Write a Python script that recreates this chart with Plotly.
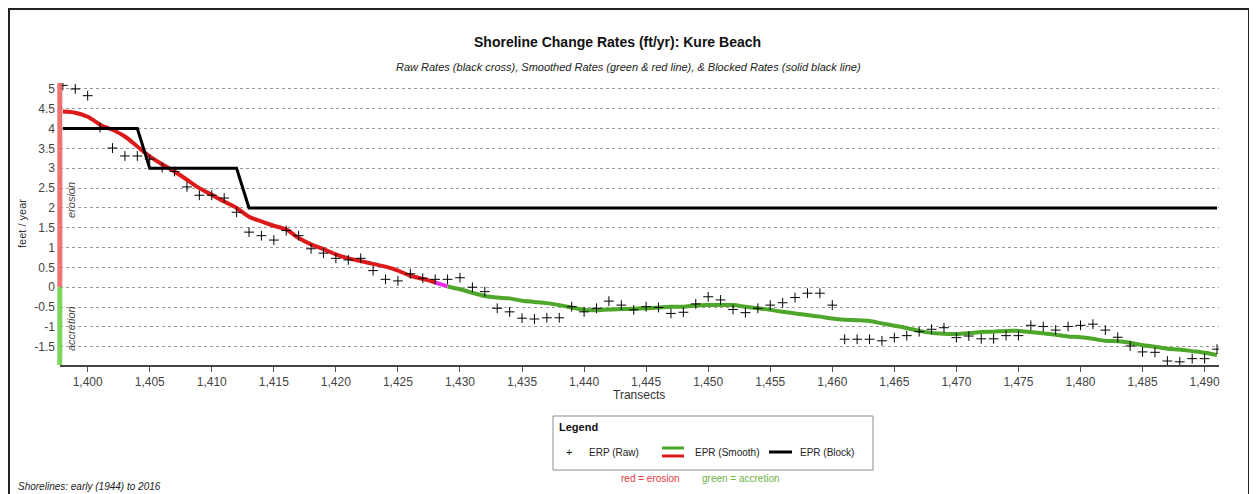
import plotly.graph_objects as go

# ---------------- data ----------------
transects = list(range(1398, 1492))

raw_rates = [
    5.09, 5.00, 4.83, 4.03, 3.51, 3.31, 3.31, 3.23, 3.02, 2.92,   # 1398-1407
    2.53, 2.32, 2.32, 2.25, 1.89, 1.39, 1.30, 1.19, 1.43, 1.30,   # 1408-1417
    0.97, 0.86, 0.73, 0.69, 0.73, 0.42, 0.20, 0.16, 0.34, 0.23,   # 1418-1427
    0.20, 0.20, 0.24, 0.00, -0.11, -0.53, -0.62, -0.78, -0.80, -0.77,  # 1428-1437
    -0.77, -0.49, -0.62, -0.53, -0.35, -0.45, -0.57, -0.49, -0.51, -0.66,  # 1438-1447
    -0.63, -0.42, -0.24, -0.32, -0.56, -0.64, -0.53, -0.45, -0.39, -0.26,  # 1448-1457
    -0.15, -0.15, -0.45, -1.31, -1.31, -1.31, -1.35, -1.27, -1.22, -1.12,  # 1458-1467
    -1.06, -1.02, -1.27, -1.23, -1.30, -1.30, -1.22, -1.22, -0.96, -0.99,  # 1468-1477
    -1.08, -0.99, -0.96, -0.93, -1.08, -1.26, -1.48, -1.63, -1.64, -1.86,  # 1478-1487
    -1.88, -1.80, -1.80, -1.56,                                          # 1488-1491
]

smooth_rates = [
    4.43, 4.40, 4.30, 4.10, 3.97, 3.80, 3.55, 3.30, 3.10, 2.92,   # 1398-1407
    2.71, 2.50, 2.33, 2.16, 2.00, 1.78, 1.66, 1.55, 1.46, 1.24,   # 1408-1417
    1.08, 0.96, 0.83, 0.73, 0.66, 0.59, 0.52, 0.42, 0.29, 0.21,   # 1418-1427
    0.12, 0.02, -0.05, -0.14, -0.22, -0.26, -0.28, -0.34, -0.37, -0.40,  # 1428-1437
    -0.45, -0.51, -0.57, -0.58, -0.56, -0.55, -0.54, -0.53, -0.51, -0.49,  # 1438-1447
    -0.49, -0.46, -0.45, -0.45, -0.45, -0.49, -0.53, -0.57, -0.62, -0.66,  # 1448-1457
    -0.70, -0.74, -0.79, -0.82, -0.83, -0.85, -0.91, -0.97, -1.03, -1.10,  # 1458-1467
    -1.15, -1.17, -1.18, -1.16, -1.13, -1.12, -1.10, -1.10, -1.13, -1.16,  # 1468-1477
    -1.20, -1.24, -1.26, -1.30, -1.35, -1.36, -1.40, -1.46, -1.50, -1.55,  # 1478-1487
    -1.57, -1.61, -1.65, -1.71,                                          # 1488-1491
]

block_x = [1398, 1404, 1405, 1412, 1413, 1491]
block_y = [4, 4, 3, 3, 2, 2]

y_ticks = [-1.5, -1, -0.5, 0, 0.5, 1, 1.5, 2, 2.5, 3, 3.5, 4, 4.5, 5]
y_tick_text = ["-1.5", "-1", "-0.5", "0", "0.5", "1", "1.5", "2", "2.5", "3", "3.5", "4", "4.5", "5"]
x_ticks = list(range(1400, 1491, 5))

# ---------------- layout geometry ----------------
# The page body has an 8px margin, so the figure is drawn 8px in from the window corner.
OFF = 8
W, H = 1257 - OFF, 494 - OFF
PLOT_L, PLOT_R, PLOT_T, PLOT_B = 60, 1219, 83, 365      # plot area in window pixels
L, T = PLOT_L - OFF, PLOT_T - OFF
R = W - (PLOT_R - OFF)
B = H - (PLOT_B - OFF)
PW, PH = PLOT_R - PLOT_L, PLOT_B - PLOT_T


def px(x):
    return (x - PLOT_L) / PW


def py(y):
    return (PLOT_B - y) / PH


FONT = "Liberation Sans, Arial, sans-serif"
RED = "#dd1a1a"
GREEN = "#4ea72a"
MAGENTA = "#e62ee6"

fig = go.Figure()

# smoothed line split into erosion / transition / accretion parts
i_red_end = transects.index(1428)
i_mag_end = transects.index(1429)
fig.add_trace(go.Scatter(x=transects[:i_red_end + 1], y=smooth_rates[:i_red_end + 1],
                         mode="lines", line=dict(color=RED, width=4, shape="spline", smoothing=0.8),
                         showlegend=False, hoverinfo="skip"))
fig.add_trace(go.Scatter(x=transects[i_red_end:i_mag_end + 1], y=smooth_rates[i_red_end:i_mag_end + 1],
                         mode="lines", line=dict(color=MAGENTA, width=4),
                         showlegend=False, hoverinfo="skip"))
fig.add_trace(go.Scatter(x=transects[i_mag_end:], y=smooth_rates[i_mag_end:],
                         mode="lines", line=dict(color=GREEN, width=4, shape="spline", smoothing=0.8),
                         showlegend=False, hoverinfo="skip"))

# blocked rates
fig.add_trace(go.Scatter(x=block_x, y=block_y, mode="lines",
                         line=dict(color="black", width=3), showlegend=False))

# raw rates
fig.add_trace(go.Scatter(x=transects, y=raw_rates, mode="markers",
                         marker=dict(symbol="cross-thin", size=7, color="black",
                                     line=dict(color="black", width=1)),
                         showlegend=False))

shapes = []
# erosion / accretion side bar
shapes.append(dict(type="line", xref="paper", yref="y", x0=px(59.8), x1=px(59.8), y0=0, y1=5.15,
                   line=dict(color="rgba(235,90,90,0.85)", width=5), layer="above"))
shapes.append(dict(type="line", xref="paper", yref="y", x0=px(59.8), x1=px(59.8), y0=-1.96, y1=0,
                   line=dict(color="rgba(110,210,70,0.9)", width=5), layer="above"))

# outer frame
shapes.append(dict(type="rect", xref="paper", yref="paper", x0=px(9), x1=px(1249), y0=py(9), y1=py(510),
                   line=dict(color="#222", width=2), fillcolor="rgba(0,0,0,0)"))

# legend box
shapes.append(dict(type="rect", xref="paper", yref="paper", x0=px(553), x1=px(873), y0=py(416), y1=py(470),
                   line=dict(color="#8a8a8a", width=1), fillcolor="white"))
shapes.append(dict(type="line", xref="paper", yref="paper", x0=px(662), x1=px(684), y0=py(448), y1=py(448),
                   line=dict(color=GREEN, width=3)))
shapes.append(dict(type="line", xref="paper", yref="paper", x0=px(662), x1=px(684), y0=py(456), y1=py(456),
                   line=dict(color=RED, width=3)))
shapes.append(dict(type="line", xref="paper", yref="paper", x0=px(769), x1=px(792), y0=py(452), y1=py(452),
                   line=dict(color="black", width=3)))

annotations = []


def text(x, y, s, size=11, color="#222", xanchor="left", bold=False, italic=False, angle=0):
    if bold:
        s = "<b>" + s + "</b>"
    if italic:
        s = "<i>" + s + "</i>"
    annotations.append(dict(x=px(x), y=py(y), xref="paper", yref="paper", text=s, showarrow=False,
                            xanchor=xanchor, yanchor="middle", textangle=angle,
                            font=dict(family=FONT, size=size, color=color)))


text(617, 42, "Shoreline Change Rates (ft/yr): Kure Beach", size=14, color="#111", xanchor="center", bold=True)
text(628, 67, "Raw Rates (black cross), Smoothed Rates (green &amp; red line), &amp; Blocked Rates (solid black line)",
     size=11, color="#222", xanchor="center", italic=True)
text(22, 224, "feet / year", size=11, color="#333", xanchor="center", angle=-90)
text(639, 395, "Transects", size=12, color="#333", xanchor="center")
text(71, 200, "erosion", size=11, color="#444", xanchor="center", italic=True, angle=-90)
text(71, 329, "accretion", size=11, color="#444", xanchor="center", italic=True, angle=-90)

text(557, 427, "Legend", size=11, color="#111", bold=True)
text(569, 452, "+", size=11, color="#111", xanchor="center")
text(587, 452, "ERP (Raw)", size=10, color="#222")
text(693, 452, "EPR (Smooth)", size=10, color="#222")
text(798, 452, "EPR (Block)", size=10, color="#222")
text(650, 478, "red = erosion", size=10, color="#e8393a", xanchor="center")
text(741, 478, "green = accretion", size=10, color="#6db33f", xanchor="center")
text(16, 486, "Shorelines: early (1944) to 2016", size=10, color="#222", italic=True)

fig.update_layout(
    width=W, height=H,
    margin=dict(l=L, r=R, t=T, b=B),
    paper_bgcolor="white", plot_bgcolor="white",
    font=dict(family=FONT, size=11, color="#333"),
    shapes=shapes, annotations=annotations,
    showlegend=False,
)
fig.update_xaxes(range=[1397.77, 1491.16], tickvals=x_ticks, tickformat=",d",
                 showgrid=False, zeroline=False, showline=True, linecolor="#444", linewidth=1.5,
                 ticks="outside", ticklen=5, tickcolor="#555",
                 tickfont=dict(family=FONT, size=12, color="#444"))
fig.update_yaxes(range=[-1.96, 5.15], tickvals=y_ticks, ticktext=y_tick_text,
                 showgrid=True, gridcolor="#9a9a9a", griddash="dot", gridwidth=1,
                 zeroline=False, showline=False, ticks="", ticklabelstandoff=4,
                 tickfont=dict(family=FONT, size=12, color="#444"))

fig.write_html("out.html")
